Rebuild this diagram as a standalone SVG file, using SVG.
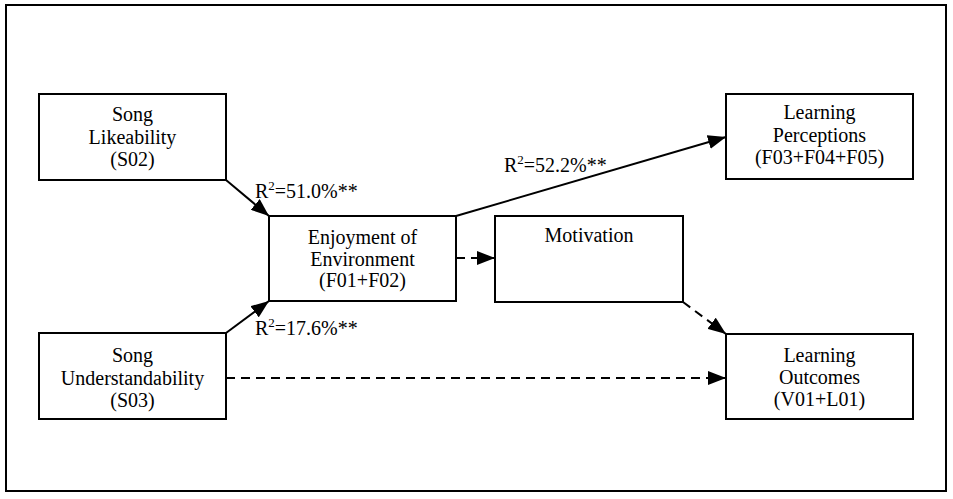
<svg xmlns="http://www.w3.org/2000/svg" width="953" height="499" viewBox="0 0 953 499">
<style>
.box{fill:#fff;stroke:#000;stroke-width:2}
text{font-family:"Liberation Serif","Times New Roman","DejaVu Serif",serif;font-size:20px;fill:#000}
.t{text-anchor:middle}
.sup{font-size:13px}
.c{fill:none;stroke:#000;stroke-width:2}
.d{stroke-dasharray:9 6}
</style>
<defs>
<marker id="ah" viewBox="0 0 18 14" refX="18" refY="7" markerWidth="18" markerHeight="14" markerUnits="userSpaceOnUse" orient="auto">
<path d="M0,0 L18,7 L0,14 z" fill="#000"/>
</marker>
</defs>
<rect x="0" y="0" width="953" height="499" fill="#fff"/>
<rect x="6" y="5" width="940" height="486" fill="none" stroke="#000" stroke-width="2"/>
<g id="connectors">
<line class="c" x1="226" y1="180" x2="269" y2="216" marker-end="url(#ah)"/>
<line class="c" x1="226" y1="333" x2="269" y2="301" marker-end="url(#ah)"/>
<line class="c" x1="456" y1="216" x2="726" y2="137" marker-end="url(#ah)"/>
<line class="c d" x1="456" y1="258" x2="495" y2="258" marker-end="url(#ah)"/>
<line class="c d" x1="226" y1="378" x2="726" y2="378" marker-end="url(#ah)"/>
<line class="c d" x1="683" y1="302" x2="726" y2="334" marker-end="url(#ah)"/>
<text font-family="Liberation Serif, serif" x="255" y="198">R<tspan class="sup" dy="-8">2</tspan><tspan dy="8">=51.0%**</tspan></text>
<text font-family="Liberation Serif, serif" x="255" y="335">R<tspan class="sup" dy="-8">2</tspan><tspan dy="8">=17.6%**</tspan></text>
<text font-family="Liberation Serif, serif" x="504" y="172">R<tspan class="sup" dy="-8">2</tspan><tspan dy="8">=52.2%**</tspan></text>
</g>
<g id="song-likeability">
<rect class="box" x="39" y="94" width="187" height="86"/>
<text class="t" x="132.5" y="121">Song</text>
<text class="t" x="132.5" y="144">Likeability</text>
<text class="t" x="132.5" y="166">(S02)</text>
</g>
<g id="song-understandability">
<rect class="box" x="39" y="333" width="187" height="86"/>
<text class="t" x="132.5" y="362">Song</text>
<text class="t" x="132.5" y="385">Understandability</text>
<text class="t" x="132.5" y="407">(S03)</text>
</g>
<g id="enjoyment">
<rect class="box" x="269" y="216" width="187" height="85"/>
<text class="t" x="362.5" y="244">Enjoyment of</text>
<text class="t" x="362.5" y="266">Environment</text>
<text class="t" x="362.5" y="287">(F01+F02)</text>
</g>
<g id="motivation">
<rect class="box" x="495" y="216" width="188" height="86"/>
<text class="t" x="589" y="242">Motivation</text>
</g>
<g id="learning-perceptions">
<rect class="box" x="726" y="94" width="187" height="85"/>
<text class="t" x="819.5" y="119">Learning</text>
<text class="t" x="819.5" y="142">Perceptions</text>
<text class="t" x="819.5" y="164">(F03+F04+F05)</text>
</g>
<g id="learning-outcomes">
<rect class="box" x="726" y="334" width="187" height="85"/>
<text class="t" x="819.5" y="362">Learning</text>
<text class="t" x="819.5" y="384">Outcomes</text>
<text class="t" x="819.5" y="406">(V01+L01)</text>
</g>
</svg>
